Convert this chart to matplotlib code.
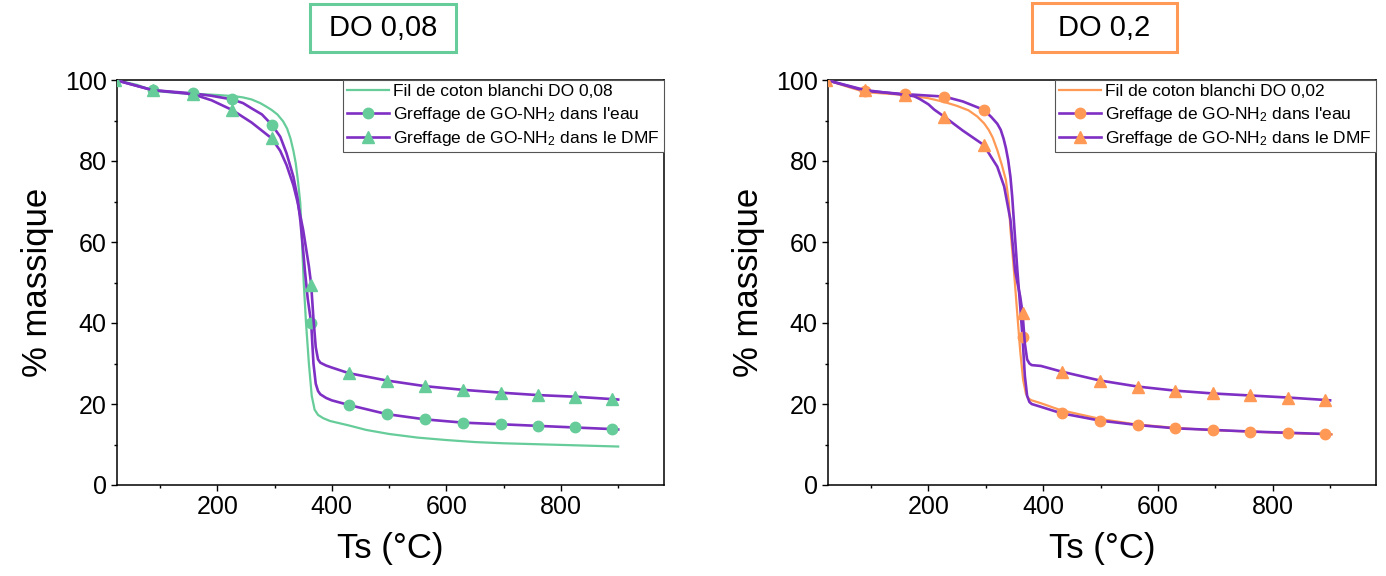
import matplotlib
matplotlib.use("Agg")
import matplotlib.pyplot as plt
from matplotlib.patches import Rectangle
from matplotlib.ticker import MultipleLocator

plt.rcParams['font.family'] = ['Liberation Sans', 'DejaVu Sans']
plt.rcParams['mathtext.fontset'] = 'custom'
plt.rcParams['mathtext.rm'] = 'Liberation Sans'
plt.rcParams['mathtext.it'] = 'Liberation Sans:italic'

GREEN = '#66CC99'
ORANGE = '#FF9955'
PURPLE = '#7E2FC4'

# ---------------- DO 0,08 (left) ----------------
t_blanc_08 = [22, 60, 90, 130, 160, 200, 230, 245, 260, 275, 286, 295, 305, 315, 322,
              328, 333, 337, 341, 345, 348, 351, 355, 360, 365, 370, 376, 385, 397, 430,
              460, 500, 550, 600, 650, 700, 750, 800, 850, 900]
m_blanc_08 = [100, 98.8, 97.3, 96.8, 96.6, 96.3, 96.0, 95.7, 95.2, 94.3, 93.4, 92.6, 91.5, 89.8, 88.0,
              85.5, 82.5, 79.5, 75.0, 69.6, 60, 50, 40, 30, 22, 18.6, 17.3, 16.5, 15.8, 14.7,
              13.6, 12.6, 11.7, 11.1, 10.6, 10.3, 10.1, 9.9, 9.7, 9.5]

t_eau_08 = [22, 87, 157, 190, 226, 245, 260, 278, 295, 310, 321, 333, 340, 345, 350,
            353, 358, 364, 368, 372, 376, 380, 390, 400, 430, 496, 563, 629, 695, 760,
            825, 890, 900]
m_eau_08 = [100, 97.5, 96.7, 96.1, 95.2, 94.3, 93.0, 91.5, 89.0, 86.0, 81.9, 76.1, 71.0, 65.4, 58.0,
            53.0, 46.0, 40.0, 30.0, 25.0, 23.2, 22.4, 21.5, 20.9, 19.75, 17.5, 16.2, 15.4, 15.0, 14.6,
            14.2, 13.8, 13.7]
mk_eau_08 = [22, 87, 157, 226, 295, 364, 430, 496, 563, 629, 695, 760, 825, 890]

t_dmf_08 = [22, 87, 157, 190, 226, 260, 295, 310, 321, 333, 340, 345, 350, 355, 360,
            364, 368, 372, 376, 380, 390, 400, 430, 496, 563, 629, 695, 760, 825, 890, 900]
m_dmf_08 = [100, 97.5, 96.5, 95.0, 92.6, 89.5, 85.6, 82.5, 79.0, 74.0, 70.0, 66.5, 63.0, 58.5, 54.0,
            49.5, 41.0, 34.0, 31.0, 30.2, 29.5, 29.0, 27.6, 25.8, 24.4, 23.5, 22.8, 22.2, 21.8, 21.2, 21.1]
mk_dmf_08 = [22, 87, 157, 226, 295, 364, 430, 496, 563, 629, 695, 760, 825, 890]

# ---------------- DO 0,2 (right) ----------------
t_blanc_02 = [22, 60, 90, 130, 160, 200, 227, 250, 270, 285, 297, 305, 312, 320, 328,
              335, 340, 343, 349, 355, 360, 365, 370, 375, 380, 396, 430, 500, 560, 630,
              700, 760, 830, 903]
m_blanc_02 = [100, 98.3, 97.0, 96.6, 96.3, 95.5, 94.6, 93.6, 92.5, 91.0, 89.3, 87.7, 85.8, 82.7, 79.0,
              75.3, 70.0, 63.0, 53.0, 42.0, 33.0, 26.0, 22.5, 21.3, 20.9, 20.2, 18.5, 16.3, 15.0, 14.1,
              13.5, 13.2, 12.8, 12.5]

t_eau_02 = [22, 90, 160, 228, 260, 297, 310, 320, 326, 331, 335, 339, 343, 346, 350,
            355, 360, 364, 368, 372, 376, 380, 396, 432, 499, 565, 630, 696, 761, 826,
            891, 900]
m_eau_02 = [100, 97.3, 96.5, 95.9, 94.7, 92.6, 90.8, 89.2, 87.7, 85.5, 83.2, 80.2, 76.0, 71.2, 63.0,
            53.0, 44.0, 36.5, 27.0, 22.0, 20.5, 20.0, 19.3, 17.7, 15.9, 14.8, 14.0, 13.6, 13.2, 12.9,
            12.6, 12.5]
mk_eau_02 = [22, 90, 160, 228, 297, 364, 432, 499, 565, 630, 696, 761, 826, 891]

t_dmf_02 = [22, 90, 160, 175, 185, 200, 210, 228, 260, 296, 320, 332, 343, 351, 355,
            360, 364, 368, 372, 376, 380, 396, 432, 499, 565, 630, 696, 761, 826, 891, 900]
m_dmf_02 = [100, 97.5, 96.3, 96.0, 95.3, 94.0, 92.7, 90.9, 87.5, 84.0, 78.6, 73.7, 65.4, 53.0, 50.0,
            46.5, 42.5, 35.0, 31.0, 30.0, 29.6, 29.4, 28.0, 25.8, 24.3, 23.3, 22.6, 22.1, 21.6, 21.0, 20.9]
mk_dmf_02 = [22, 90, 160, 228, 296, 364, 432, 499, 565, 630, 696, 761, 826, 891]

lbl_eau = "Greffage de GO-NH$_2$ dans l'eau"
lbl_dmf = "Greffage de GO-NH$_2$ dans le DMF"

panels = [
    dict(title='DO 0,08', col=GREEN, blanc_lbl='Fil de coton blanchi DO 0,08',
         blanc=(t_blanc_08, m_blanc_08), eau=(t_eau_08, m_eau_08, mk_eau_08),
         dmf=(t_dmf_08, m_dmf_08, mk_dmf_08)),
    dict(title='DO 0,2', col=ORANGE, blanc_lbl='Fil de coton blanchi DO 0,02',
         blanc=(t_blanc_02, m_blanc_02), eau=(t_eau_02, m_eau_02, mk_eau_02),
         dmf=(t_dmf_02, m_dmf_02, mk_dmf_02)),
]

fig = plt.figure(figsize=(13.86, 5.76), dpi=100)
ax_pos = [[117 / 1386, 1 - 485 / 576, 547 / 1386, 405 / 576],
          [828 / 1386, 1 - 485 / 576, 548 / 1386, 405 / 576]]
box_px = [(310, 4, 146, 48), (1032, 3, 145, 49)]

for p, pos, bx in zip(panels, ax_pos, box_px):
    ax = fig.add_axes(pos)
    col = p['col']
    ax.plot(*p['blanc'], color=col, lw=1.6, label=p['blanc_lbl'], zorder=2)
    for key, mk, ms, lbl in [('eau', 'o', 7.5, lbl_eau), ('dmf', '^', 8.5, lbl_dmf)]:
        t, m, marks = p[key]
        idx = [t.index(v) for v in marks]
        ax.plot(t, m, color=PURPLE, lw=1.9, marker=mk, ms=ms, markevery=idx,
                mfc=col, mec=col, label=lbl, zorder=3)

    ax.set_xlim(25, 980)
    ax.set_ylim(0, 100)
    ax.set_xticks([200, 400, 600, 800])
    ax.set_yticks([0, 20, 40, 60, 80, 100])
    ax.xaxis.set_minor_locator(MultipleLocator(100))
    ax.yaxis.set_minor_locator(MultipleLocator(10))
    ax.tick_params(which='major', direction='out', length=4.5, width=1, labelsize=18, pad=3)
    ax.tick_params(which='minor', direction='out', length=2.5, width=1)
    for s in ax.spines.values():
        s.set_linewidth(1.1)
    ax.set_xlabel('Ts (°C)', fontsize=25, labelpad=9)
    ax.set_ylabel('% massique', fontsize=25, labelpad=8)

    leg = ax.legend(loc='upper right', fontsize=12.5, borderaxespad=0, fancybox=False,
                    borderpad=0.25, handlelength=2.4, handletextpad=0.25,
                    labelspacing=0.3, framealpha=1)
    leg.get_frame().set_edgecolor('#555555')
    leg.get_frame().set_linewidth(0.8)

    # boxed title above each panel
    x0, y0, w, h = bx
    fig.patches.append(Rectangle((x0 / 1386, 1 - (y0 + h) / 576), w / 1386, h / 576,
                                 transform=fig.transFigure, fill=False,
                                 edgecolor=col, linewidth=2.2))
    fig.text((x0 + w / 2) / 1386, 1 - (y0 + h / 2) / 576, p['title'], fontsize=21,
             ha='center', va='center')

fig.savefig('out.png', dpi=100)
